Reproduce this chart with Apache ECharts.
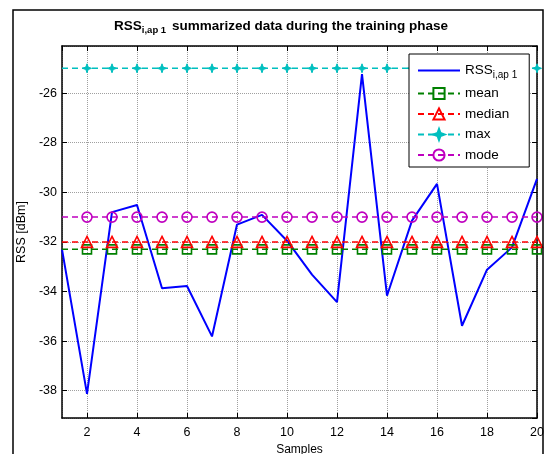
<!DOCTYPE html>
<html>
<head>
<meta charset="utf-8">
<script src="https://cdn.jsdelivr.net/npm/echarts@6/dist/echarts.min.js"></script>
<style>html,body{margin:0;padding:0;background:#fff;}#c{width:546px;height:454px;}</style>
</head>
<body>
<div id="c"></div>
<script>
var samples = [1,2,3,4,5,6,7,8,9,10,11,12,13,14,15,16,17,18,19,20];
var rss = [-32.3,-38.13,-30.8,-30.51,-33.87,-33.78,-35.81,-31.3,-30.91,-31.95,-33.32,-34.43,-25.23,-34.17,-31.14,-29.66,-35.38,-33.12,-32.22,-29.46];
var meanVal = [-32.3];
var medianVal = [-32.0];
var maxVal = [-25.0];
var modeVal = [-31.0];
var xTicks = [2,4,6,8,10,12,14,16,18,20];
var yTicks = [-38,-36,-34,-32,-30,-28,-26];

var FONT = '"Liberation Sans", Arial, sans-serif';
function constSeries(v) {
  return samples.map(function (s, i) {
    var d = { value: [s, v[0]] };
    if (i === 0) { d.symbol = 'none'; }
    return d;
  });
}
var starPath = 'path://M0,-6 L1.6,-1.6 L6,0 L1.6,1.6 L0,6 L-1.6,1.6 L-6,0 L-1.6,-1.6 Z';

function statSeries(name, vals, color, symbol, size, filled) {
  return {
    name: name, type: 'line', data: constSeries(vals),
    symbol: symbol, symbolSize: size, showSymbol: true,
    lineStyle: { color: color, width: 1.5, type: [6, 4] },
    itemStyle: filled ? { color: color, borderColor: color, borderWidth: 1 } :
      { color: 'rgba(255,255,255,0)', borderColor: color, borderWidth: 1.6 },
    emphasis: { disabled: true }, animation: false, z: 3
  };
}

var chart = echarts.init(document.getElementById('c'));
var axisCommon = {
  type: 'value',
  minInterval: 2, maxInterval: 2, splitNumber: 8,
  axisLine: { show: true, lineStyle: { color: '#000', width: 1.5 } },
  axisTick: { show: true, inside: true, length: 5, lineStyle: { color: '#000', width: 1 } }
};
chart.setOption({
  backgroundColor: '#fff',
  animation: false,
  title: {
    text: '{m|RSS}{s|i,ap 1}{m| summarized data during the training phase}',
    left: 276, top: 14, textAlign: 'center',
    textStyle: {
      rich: {
        m: { fontFamily: FONT, fontSize: 13.5, fontWeight: 'bold', color: '#000', verticalAlign: 'top', lineHeight: 16 },
        s: { fontFamily: FONT, fontSize: 9.5, fontWeight: 'bold', color: '#000', verticalAlign: 'bottom', lineHeight: 16, padding: [8, 2, 0, 0] }
      }
    }
  },
  grid: { left: 62, right: 9, top: 46, bottom: 36, containLabel: false, outerBoundsMode: 'none' },
  legend: {
    orient: 'vertical', left: 409, top: 54,
    width: 120,
    padding: [7, 12, 5, 8],
    borderColor: '#000', borderWidth: 1, backgroundColor: '#fff',
    itemWidth: 42, itemHeight: 14, itemGap: 6.5,
    data: [{ name: 'RSS', itemStyle: { opacity: 0 } }, 'mean', 'median', 'max', 'mode'],
    formatter: function (n) { return n === 'RSS' ? '{m|RSS}{s|i,ap 1}' : '{m|' + n + '}'; },
    textStyle: {
      color: '#000', fontFamily: FONT, fontSize: 13,
      rich: {
        m: { fontFamily: FONT, fontSize: 13.5, color: '#000', lineHeight: 16 },
        s: { fontFamily: FONT, fontSize: 10, color: '#000', lineHeight: 16, padding: [9, 0, 0, 0] }
      }
    }
  },
  graphic: [{
    type: 'rect', shape: { x: 13, y: 10, width: 530, height: 460 },
    style: { fill: 'none', stroke: '#000', lineWidth: 1.5 }, z: 100, silent: true
  }],
  xAxis: [
    Object.assign({}, axisCommon, {
      min: 1, max: 20, position: 'bottom',
      name: 'Samples', nameLocation: 'middle', nameGap: 22,
      nameTextStyle: { fontFamily: FONT, fontSize: 12, color: '#000' },
      axisLabel: { fontFamily: FONT, fontSize: 12.5, color: '#000', margin: 8, showMinLabel: false,
        formatter: function (v) { return xTicks.indexOf(v) >= 0 ? String(v) : ''; } },
      splitLine: { show: true, lineStyle: { color: '#a0a0a0', width: 1, type: [1, 1] } }
    }),
    Object.assign({}, axisCommon, {
      min: 1, max: 20, position: 'top',
      axisLabel: { show: false }, splitLine: { show: false }
    })
  ],
  yAxis: [
    Object.assign({}, axisCommon, {
      min: -39.1, max: -24.1, position: 'left',
      name: 'RSS [dBm]', nameLocation: 'middle', nameGap: 32,
      nameTextStyle: { fontFamily: FONT, fontSize: 12.5, color: '#000', verticalAlign: 'middle' },
      axisLabel: { fontFamily: FONT, fontSize: 12.5, color: '#000', margin: 5, showMinLabel: false, showMaxLabel: false,
        formatter: function (v) { return yTicks.indexOf(v) >= 0 ? String(v) : ''; } },
      splitLine: { show: true, lineStyle: { color: '#a0a0a0', width: 1, type: [1, 1] } }
    }),
    Object.assign({}, axisCommon, {
      min: -39.1, max: -24.1, position: 'right',
      axisLabel: { show: false }, splitLine: { show: false }
    })
  ],
  series: [
    {
      name: 'RSS', type: 'line',
      data: samples.map(function (s, i) { return [s, rss[i]]; }),
      symbol: 'none', showSymbol: false,
      lineStyle: { color: '#0000ff', width: 2 }, itemStyle: { color: '#0000ff' },
      emphasis: { disabled: true }, z: 2
    },
    statSeries('mean', meanVal, '#008000', 'rect', 9, false),
    statSeries('median', medianVal, '#ff0000', 'triangle', 11, false),
    statSeries('max', maxVal, '#00bfbf', starPath, 9, true),
    statSeries('mode', modeVal, '#bf00bf', 'circle', 10, false)
  ]
});
</script>
</body>
</html>
